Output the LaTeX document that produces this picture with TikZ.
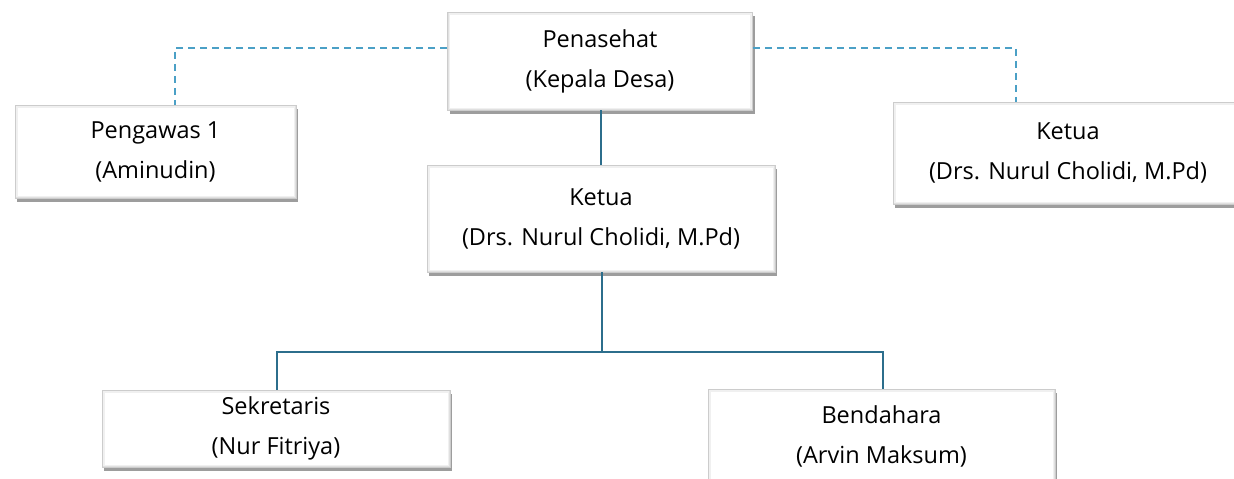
\documentclass[tikz,border=0pt]{standalone}
\usepackage{fontspec}
\setmainfont{Open Sans}
\usetikzlibrary{shadows,calc}
\definecolor{solidline}{RGB}{44,110,140}
\definecolor{dashline}{RGB}{75,160,198}
\tikzset{
  box/.style={draw=black!20, line width=0.8pt, fill=white, align=center,
    inner sep=0pt, font=\fontsize{23.5}{40}\selectfont,
    drop shadow={shadow xshift=2pt, shadow yshift=-3.5pt, fill=black!55, opacity=0.7},
    path picture={
      \draw[black!6, line width=5pt]
        (path picture bounding box.south west) rectangle (path picture bounding box.north east);
      \draw[black!12, line width=2pt]
        (path picture bounding box.south west) rectangle (path picture bounding box.north east);
    }},
  solidcon/.style={draw=solidline, line width=2.6pt},
  dashcon/.style={draw=dashline, line width=2pt, dash pattern=on 7pt off 5pt},
}
\begin{document}
\begin{tikzpicture}[x=1pt,y=-1pt]
\useasboundingbox (0,0) rectangle (1234,479);
\clip (0,0) rectangle (1234,479);
\node[box, minimum width=305, minimum height=98] (pen) at (600,61) {Penasehat\\(Kepala Desa)};
\node[box, minimum width=281, minimum height=93] (peng) at (155.5,151.5) {Pengawas 1\\(Aminudin)};
\node[box, minimum width=350, minimum height=102] (ketr) at (1068,153) {Ketua\\(Drs. Nurul Cholidi, M.Pd)};
\node[box, minimum width=348, minimum height=107] (ketm) at (601,218.5) {Ketua\\(Drs. Nurul Cholidi, M.Pd)};
\node[box, minimum width=348, minimum height=77] (sek) at (276,428.5) {Sekretaris\\(Nur Fitriya)};
\node[box, minimum width=347, minimum height=94] (ben) at (881.5,436) {Bendahara\\(Arvin Maksum)};
% connectors
\coordinate (dl) at (175,48);
\coordinate (dr) at (1016,48);
\draw[dashcon] (pen.west |- dl) -- (dl) -- (dl |- peng.north);
\draw[dashcon] (pen.east |- dr) -- (dr) -- (dr |- ketr.north);
\draw[solidcon] (pen.south -| ketm.north) -- (ketm.north);
\coordinate (hb) at (602,352);
\draw[solidcon] (ketm.south -| hb) -- (hb);
\draw[solidcon] (hb) -| (sek.north -| 277,0);
\draw[solidcon] (hb) -| (ben.north -| 883,0);
\end{tikzpicture}
\end{document}
